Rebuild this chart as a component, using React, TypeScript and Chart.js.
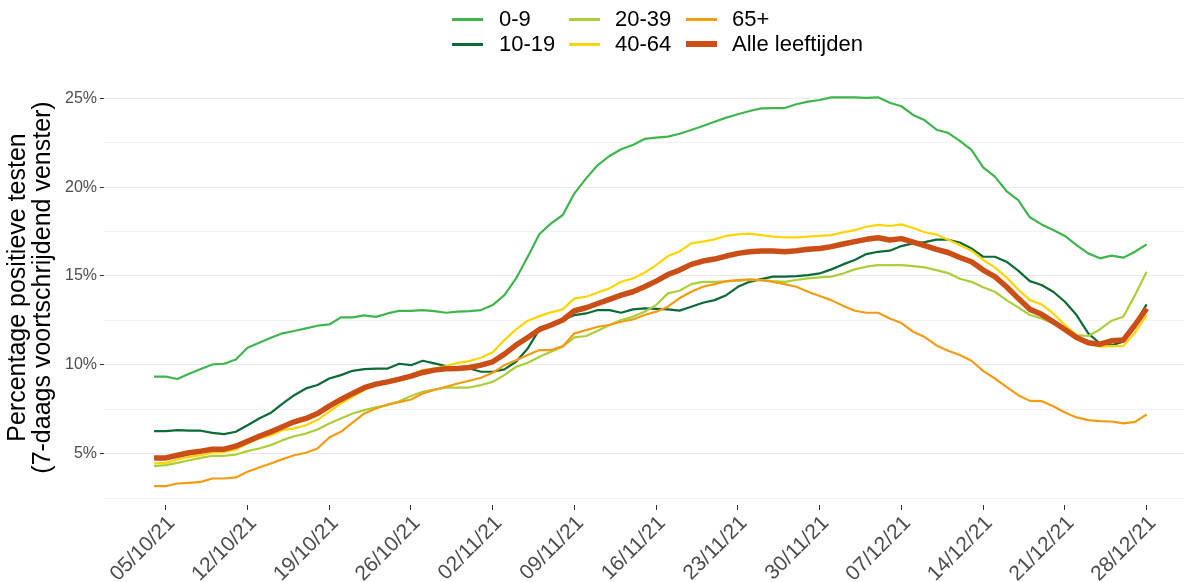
import React, { useEffect, useRef } from 'react';
import { Chart, registerables } from 'chart.js';

Chart.register(...registerables);

// ---- data ----
const START_DATE = [2021, 9, 4]; // 04/10/2021 (month is 0-based)
const N_DAYS = 86;

const TICK_LABELS = [
  '05/10/21', '12/10/21', '19/10/21', '26/10/21', '02/11/21', '09/11/21', '16/11/21',
  '23/11/21', '30/11/21', '07/12/21', '14/12/21', '21/12/21', '28/12/21',
];

const Y_TICKS = [2.5, 5, 7.5, 10, 12.5, 15, 17.5, 20, 22.5, 25];

const SERIES_NAMES = ['0-9', '10-19', '20-39', '40-64', '65+', 'Alle leeftijden'];

const AGE_0_9 = [
  9.33, 9.33, 9.2, 9.5, 9.76, 10.02, 10.06, 10.3, 10.96, 11.24, 11.52, 11.77, 11.9, 12.05, 12.2, 12.27,
  12.67, 12.67, 12.78, 12.7, 12.89, 13.04, 13.04, 13.08, 13.02, 12.93, 12.99, 13.02, 13.08, 13.36, 13.92,
  14.86, 16.08, 17.36, 17.96, 18.43, 19.65, 20.49, 21.24, 21.75, 22.13, 22.37, 22.71, 22.78, 22.84, 23.0,
  23.21, 23.44, 23.68, 23.91, 24.1, 24.28, 24.43, 24.45, 24.45, 24.66, 24.81, 24.9, 25.05, 25.05, 25.05,
  25.02, 25.05, 24.75, 24.55, 24.06, 23.76, 23.23, 23.05, 22.6, 22.09, 21.11, 20.59, 19.78, 19.27, 18.3,
  17.9, 17.58, 17.25, 16.74, 16.27, 15.99, 16.14, 16.03, 16.36, 16.78,
];

const AGE_10_19 = [
  6.27, 6.27, 6.32, 6.29, 6.29, 6.17, 6.1, 6.23, 6.6, 6.98, 7.3, 7.82, 8.29, 8.67, 8.86, 9.23, 9.42,
  9.66, 9.76, 9.79, 9.79, 10.06, 9.98, 10.23, 10.08, 9.93, 9.79, 9.79, 9.61, 9.61, 9.74, 10.17, 10.92,
  11.99, 12.24, 12.52, 12.8, 12.89, 13.08, 13.08, 12.93, 13.12, 13.17, 13.15, 13.12, 13.05, 13.27, 13.49,
  13.64, 13.92, 14.39, 14.67, 14.82, 14.96, 14.96, 14.99, 15.05, 15.14, 15.37, 15.65, 15.9, 16.23, 16.36,
  16.42, 16.68, 16.83, 16.9, 17.04, 17.04, 16.88, 16.55, 16.08, 16.08, 15.8, 15.3, 14.71, 14.49, 14.11,
  13.55, 12.8, 11.77, 11.2, 11.1, 11.3, 12.3, 13.4,
];

const AGE_20_39 = [
  4.3, 4.35, 4.48, 4.63, 4.76, 4.88, 4.88, 4.95, 5.14, 5.29, 5.48, 5.76, 5.98, 6.13, 6.36, 6.7, 6.98,
  7.26, 7.45, 7.6, 7.73, 7.95, 8.24, 8.48, 8.61, 8.72, 8.72, 8.72, 8.86, 9.04, 9.42, 9.89, 10.11, 10.45,
  10.73, 11.02, 11.54, 11.62, 11.92, 12.24, 12.52, 12.7, 12.99, 13.36, 14.02, 14.17, 14.54, 14.67, 14.67,
  14.69, 14.73, 14.77, 14.77, 14.71, 14.67, 14.77, 14.86, 14.92, 14.96, 15.14, 15.37, 15.52, 15.61, 15.61,
  15.61, 15.55, 15.48, 15.33, 15.16, 14.84, 14.67, 14.36, 14.11, 13.64, 13.23, 12.8, 12.61, 12.33, 11.99,
  11.67, 11.62, 11.99, 12.48, 12.7, 13.92, 15.24,
];

const AGE_40_64 = [
  4.45, 4.48, 4.67, 4.82, 4.91, 5.05, 5.1, 5.23, 5.57, 5.85, 6.04, 6.32, 6.42, 6.6, 6.89, 7.36, 7.82,
  8.2, 8.58, 8.86, 9.04, 9.23, 9.42, 9.7, 9.79, 9.93, 10.11, 10.21, 10.4, 10.7, 11.39, 11.99, 12.48,
  12.74, 12.95, 13.12, 13.74, 13.83, 14.07, 14.3, 14.67, 14.86, 15.18, 15.61, 16.12, 16.38, 16.83, 16.93,
  17.06, 17.26, 17.34, 17.38, 17.3, 17.21, 17.17, 17.17, 17.21, 17.25, 17.3, 17.45, 17.58, 17.77, 17.87,
  17.81, 17.9, 17.7, 17.46, 17.33, 17.04, 16.74, 16.42, 15.9, 15.48, 14.92, 14.24, 13.64, 13.4, 12.89,
  12.24, 11.67, 11.2, 11.02, 11.05, 11.05, 11.8, 12.8,
];

const AGE_65_PLUS = [
  3.17, 3.17, 3.32, 3.36, 3.41, 3.6, 3.6, 3.66, 3.98, 4.22, 4.45, 4.69, 4.91, 5.05, 5.29, 5.91, 6.23,
  6.74, 7.26, 7.54, 7.77, 7.9, 8.05, 8.39, 8.58, 8.76, 8.95, 9.1, 9.27, 9.55, 9.98, 10.26, 10.55, 10.83,
  10.83, 11.05, 11.77, 11.95, 12.14, 12.24, 12.42, 12.55, 12.8, 12.99, 13.27, 13.75, 14.11, 14.39, 14.54,
  14.71, 14.77, 14.81, 14.77, 14.67, 14.54, 14.39, 14.11, 13.87, 13.64, 13.32, 13.04, 12.93, 12.93, 12.61,
  12.35, 11.86, 11.56, 11.09, 10.79, 10.55, 10.23, 9.66, 9.23, 8.76, 8.29, 7.97, 7.96, 7.67, 7.32, 7.04,
  6.89, 6.83, 6.81, 6.7, 6.79, 7.2,
];

const ALLE = [
  4.76, 4.76, 4.91, 5.05, 5.14, 5.25, 5.25, 5.42, 5.7, 5.98, 6.23, 6.51, 6.79, 6.98, 7.26, 7.67, 8.05,
  8.39, 8.71, 8.91, 9.04, 9.19, 9.36, 9.57, 9.7, 9.78, 9.79, 9.85, 9.98, 10.17, 10.6, 11.11, 11.54, 11.99,
  12.24, 12.52, 13.04, 13.21, 13.45, 13.68, 13.92, 14.11, 14.39, 14.71, 15.08, 15.33, 15.65, 15.84, 15.95,
  16.12, 16.27, 16.36, 16.4, 16.4, 16.36, 16.42, 16.5, 16.55, 16.65, 16.8, 16.93, 17.06, 17.15, 17.02,
  17.1, 16.9, 16.7, 16.5, 16.32, 16.04, 15.8, 15.33, 14.96, 14.39, 13.74, 13.12, 12.84, 12.42, 11.99,
  11.54, 11.24, 11.16, 11.35, 11.39, 12.24, 13.17,
];

const SERIES_VALUES = [AGE_0_9, AGE_10_19, AGE_20_39, AGE_40_64, AGE_65_PLUS, ALLE];
const SERIES_COLORS = ['#3FB54D', '#0B6B36', '#AACF3A', '#FFD500', '#F39C12', '#CB4E17'];
const SERIES_WIDTHS = [2.2, 2.2, 2.2, 2.2, 2.2, 5.5];
const LEGEND_WIDTHS = [3, 3, 3, 3, 3, 6];

const Y_TITLE = ['Percentage positieve testen', '(7-daags voortschrijdend venster)'];

// category labels (one date per data point)
const pad = (n: number) => (n < 10 ? '0' + n : '' + n);
const DATES: string[] = [];
for (let i = 0; i < N_DAYS; i++) {
  const d = new Date(Date.UTC(START_DATE[0], START_DATE[1], START_DATE[2] + i));
  DATES.push(pad(d.getUTCDate()) + '/' + pad(d.getUTCMonth() + 1) + '/' + String(d.getUTCFullYear()).slice(2));
}
const TICK_INDEX = TICK_LABELS.map((l) => DATES.indexOf(l));

const FONT = "'Liberation Sans', Arial, sans-serif";

export default function App() {
  const ref = useRef<HTMLCanvasElement | null>(null);

  useEffect(() => {
    if (!ref.current) return;
    const chart = new Chart(ref.current, {
      type: 'line',
      data: {
        datasets: SERIES_NAMES.map((name, k) => ({
          label: name,
          data: SERIES_VALUES[k].map((v, i) => ({ x: i, y: v })),
          borderColor: SERIES_COLORS[k],
          backgroundColor: SERIES_COLORS[k],
          borderWidth: SERIES_WIDTHS[k],
          pointRadius: 0,
          tension: 0,
          fill: false,
          borderJoinStyle: 'round',
          order: SERIES_NAMES.length - k,
        })),
      },
      options: {
        animation: false,
        responsive: false,
        devicePixelRatio: 1,
        layout: { padding: { top: 70, left: 0, right: 0, bottom: 0 } },
        plugins: { legend: { display: false }, tooltip: { enabled: false }, title: { display: false } },
        scales: {
          x: {
            type: 'linear',
            min: -4.29,
            max: 88.2,
            border: { display: false },
            grid: { drawOnChartArea: false, drawTicks: true, tickLength: 5, tickColor: '#333333', lineWidth: 1 },
            ticks: {
              autoSkip: false,
              minRotation: 45,
              maxRotation: 45,
              padding: 1,
              labelOffset: 6,
              color: '#4D4D4D',
              font: { family: FONT, size: 21 },
              callback: (v: any) => DATES[Math.round(Number(v))] ?? '',
            },
            afterBuildTicks: (s: any) => {
              s.ticks = TICK_INDEX.map((v) => ({ value: v }));
            },
            afterFit: (s: any) => {
              s.height = 77;
            },
          },
          y: {
            type: 'linear',
            min: 2.11,
            max: 26.59,
            border: { display: false },
            grid: {
              color: (c: any) => (c.tick && c.tick.value % 5 === 0 ? '#EBEBEB' : '#F3F3F3'),
              tickColor: (c: any) => (c.tick && c.tick.value % 5 === 0 ? '#333333' : 'rgba(0,0,0,0)'),
              lineWidth: 1,
              drawTicks: true,
              tickLength: 4,
            },
            ticks: {
              padding: 3,
              color: '#4D4D4D',
              font: { family: FONT, size: 16 },
              callback: (v: any) => (Number(v) % 5 === 0 ? Number(v) + '%' : ''),
            },
            afterBuildTicks: (s: any) => {
              s.ticks = Y_TICKS.map((v) => ({ value: v }));
            },
            afterFit: (s: any) => {
              s.width = 104;
            },
            title: {
              display: true,
              text: Y_TITLE,
              color: '#000000',
              font: { family: FONT, size: 25, lineHeight: 0.98 },
              padding: { top: 6, bottom: 0 },
            },
          },
        },
      },
    } as any);
    return () => chart.destroy();
  }, []);

  const cols = [
    { line: 452, text: 499 },
    { line: 569, text: 615 },
    { line: 686, text: 732 },
  ];
  const rows = [19, 44];

  return (
    <div style={{ position: 'absolute', left: 0, top: 0, width: 1184, height: 582, background: '#fff', overflow: 'hidden' }}>
      <canvas ref={ref} width={1184} height={582} style={{ position: 'absolute', left: 0, top: 0 }} />
      {SERIES_NAMES.map((name, k) => {
        const col = cols[Math.floor(k / 2)];
        const row = rows[k % 2];
        return (
          <React.Fragment key={name}>
            <div
              style={{
                position: 'absolute',
                left: col.line,
                top: row - LEGEND_WIDTHS[k] / 2,
                width: 31,
                height: LEGEND_WIDTHS[k],
                background: SERIES_COLORS[k],
              }}
            />
            <div
              style={{
                position: 'absolute',
                left: col.text,
                top: row - 13,
                height: 26,
                lineHeight: '26px',
                fontFamily: FONT,
                fontSize: 22,
                color: '#000',
                whiteSpace: 'nowrap',
              }}
            >
              {name}
            </div>
          </React.Fragment>
        );
      })}
    </div>
  );
}
